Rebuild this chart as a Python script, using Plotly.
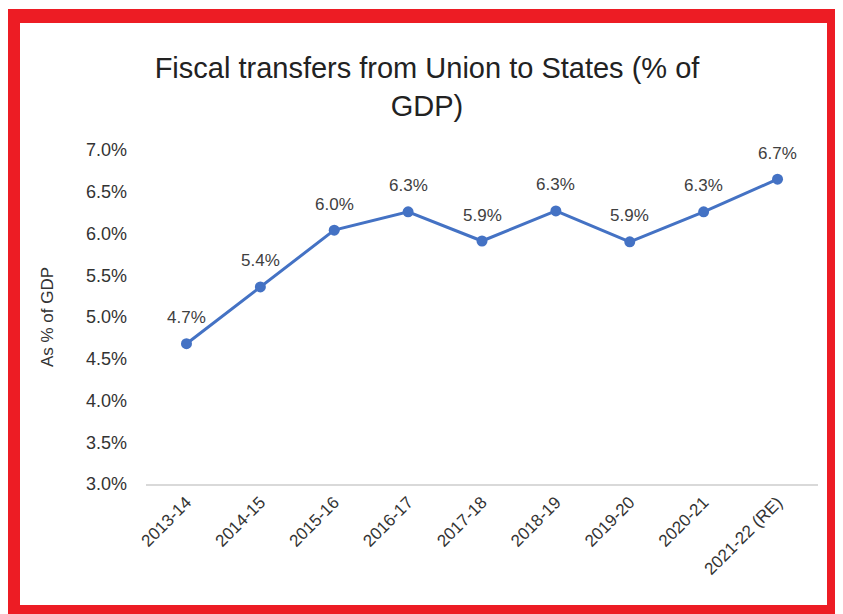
import plotly.graph_objects as go

years = ["2013-14", "2014-15", "2015-16", "2016-17", "2017-18",
         "2018-19", "2019-20", "2020-21", "2021-22 (RE)"]
share = [4.68, 5.36, 6.04, 6.26, 5.91, 6.27, 5.90, 6.26, 6.65]

# page puts the figure 8px in from the top-left, so size is cut by that
W, H = 827, 606
ml, mr, mt, mb = 138, 17, 142, 130
pw, ph = W - ml - mr, H - mt - mb


def px_x(v):
    return (v - ml) / pw


def px_y(v):
    return 1 - (v - mt) / ph


fig = go.Figure()
fig.add_trace(go.Scatter(
    x=years, y=share, mode="lines+markers",
    line=dict(color="#4472C4", width=3),
    marker=dict(color="#4472C4", size=11),
    hoverinfo="x+y", showlegend=False,
))

# data labels above each point
for yr, v in zip(years, share):
    fig.add_annotation(x=yr, y=v, text="%.1f%%" % v, showarrow=False,
                       yshift=26, font=dict(size=17, color="#404040"))

# red frame round the whole picture
red = "#ED1C24"
frame = [(0, 1, W, 15), (0, 1, 12, H), (W - 8, 1, W, H), (0, 597, W, H)]
for x0, y0, x1, y1 in frame:
    fig.add_shape(type="rect", xref="paper", yref="paper",
                  x0=px_x(x0), x1=px_x(x1), y0=px_y(y0), y1=px_y(y1),
                  fillcolor=red, line=dict(width=0), layer="above")

fig.update_layout(
    width=W, height=H,
    margin=dict(l=ml, r=mr, t=mt, b=mb),
    paper_bgcolor="white", plot_bgcolor="white",
    font=dict(family="Liberation Sans, Arial", color="#333333"),
    title=dict(text="Fiscal transfers from Union to States (% of<br>GDP)",
               x=419 / W, xref="container", xanchor="center",
               y=1 - 70 / H, yref="container", yanchor="middle",
               font=dict(size=29, color="#222222")),
)
fig.update_xaxes(type="category", showgrid=False, tickangle=-45,
                 showline=True, linecolor="#D9D9D9", linewidth=1.5,
                 ticks="", tickfont=dict(size=17, color="#333333"))
fig.update_yaxes(range=[3, 7], dtick=0.5, tickformat=".1f", ticksuffix="%",
                 showgrid=False, zeroline=False, ticks="",
                 ticklabelstandoff=18, tickfont=dict(size=18, color="#333333"),
                 title=dict(text="As % of GDP", standoff=28,
                            font=dict(size=17, color="#333333")))

fig.write_html("out.html")
